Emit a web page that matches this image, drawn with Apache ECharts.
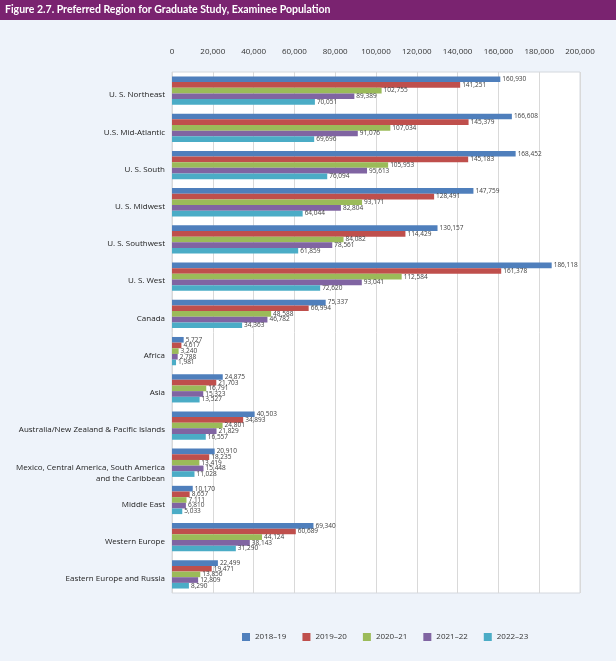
<!DOCTYPE html>
<html>
<head>
<meta charset="utf-8">
<script src="https://cdn.jsdelivr.net/npm/echarts@6/dist/echarts.min.js"></script>
<style>
  html, body { margin: 0; padding: 0; background: #eef3fa; }
  #chart { width: 616px; height: 661px; }
</style>
</head>
<body>
<div id="chart"></div>
<script>
// categories, top to bottom
const regions = [
  'U. S. Northeast', 'U.S. Mid-Atlantic', 'U. S. South', 'U. S. Midwest',
  'U. S. Southwest', 'U. S. West', 'Canada', 'Africa', 'Asia',
  'Australia/New Zealand & Pacific Islands',
  'Mexico, Central America, South America\nand the Caribbean',
  'Middle East', 'Western Europe', 'Eastern Europe and Russia'
]
const years = ['2018–19', '2019–20', '2020–21', '2021–22', '2022–23']

const y2018 = [160930, 166608, 168452, 147759, 130157, 186118, 75337, 5727, 24875, 40503, 20910, 10170, 69340, 22499]
const y2019 = [141251, 145379, 145183, 128491, 114429, 161378, 66994, 4617, 21703, 34893, 18235, 8657, 60689, 19471]
const y2020 = [102755, 107034, 105953, 93171, 84082, 112584, 48588, 3240, 16791, 24801, 13419, 7111, 44124, 13856]
const y2021 = [89389, 91076, 95613, 82804, 78561, 93041, 46782, 2788, 15323, 21829, 15448, 6810, 38143, 12809]
const y2022 = [70051, 69696, 76094, 64044, 61859, 72620, 34363, 1981, 13527, 16557, 11028, 5033, 31290, 8290]

const colors = ['#4f7fbc', '#bf4f4c', '#9bbb59', '#8064a2', '#4bacc6']
const font = 'Open Sans'

const fmt = v => v.toLocaleString('en-US')

const myChart = echarts.init(document.getElementById('chart'))

const series = [y2018, y2019, y2020, y2021, y2022].map((data, i) => ({
  name: years[i],
  type: 'bar',
  data,
  barCategoryGap: '24%',
  barGap: '0%',
  itemStyle: { color: colors[i] },
  label: {
    show: true,
    position: 'right',
    distance: 2,
    fontFamily: font,
    fontSize: 6.5,
    color: '#404040',
    formatter: p => fmt(p.value)
  }
}))

const option = {
  backgroundColor: '#eef3fa',
  animation: false,
  color: colors,
  graphic: [
    {
      type: 'rect',
      shape: { x: 0, y: 0, width: 616, height: 20 },
      style: { fill: '#7a2370' },
      z: 0
    }
  ],
  title: {
    text: 'Figure 2.7. Preferred Region for Graduate Study, Examinee Population',
    left: 5,
    top: 4,
    padding: 0,
    textStyle: {
      fontFamily: 'Lato',
      fontSize: 10.5,
      fontWeight: 'bold',
      color: '#ffffff'
    },
    z: 10
  },
  legend: {
    bottom: 15,
    left: 237,
    itemWidth: 8,
    itemHeight: 8,
    itemGap: 16,
    icon: 'rect',
    textStyle: { fontFamily: font, fontSize: 8, color: '#333' }
  },
  grid: {
    left: 172,
    right: 36,
    top: 72,
    bottom: 68,
    show: true,
    backgroundColor: '#ffffff',
    borderColor: '#d4d8de',
    borderWidth: 1
  },
  xAxis: {
    type: 'value',
    position: 'top',
    min: 0,
    max: 200000,
    interval: 20000,
    axisLine: { show: false },
    axisTick: { show: false },
    axisLabel: {
      margin: 16,
      fontFamily: font,
      fontSize: 8,
      color: '#333',
      formatter: v => fmt(v)
    },
    splitLine: { lineStyle: { color: '#d9d9d9' } }
  },
  yAxis: {
    type: 'category',
    data: regions,
    inverse: true,
    axisLine: { show: false },
    axisTick: { show: false },
    axisLabel: {
      margin: 7,
      fontFamily: font,
      fontSize: 8,
      color: '#222',
      // labels sit a little below the band centre, the two-line one more so
      formatter: v => v.indexOf('\n') > -1 ? '{two|' + v.replace('\n', '}\n{two|') + '}' : '{one|' + v + '}',
      rich: {
        one: { fontFamily: font, fontSize: 8, color: '#222', lineHeight: 11, padding: [9, 0, 0, 0] },
        two: { fontFamily: font, fontSize: 8, color: '#222', lineHeight: 11, padding: [21, 0, 0, 0] }
      }
    }
  },
  series
}

myChart.setOption(option)
</script>
</body>
</html>
